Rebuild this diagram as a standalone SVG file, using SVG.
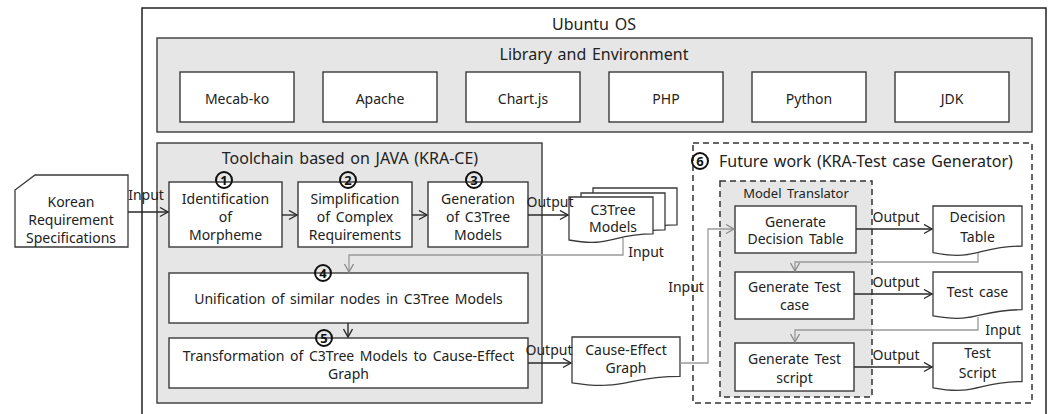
<svg xmlns="http://www.w3.org/2000/svg" width="1051" height="414" viewBox="0 0 1051 414">
  <style>
    text { font-family: "Noto Sans", "Open Sans", sans-serif; fill: #222; }
    .t14 { font-size: 14px; text-anchor: middle; word-spacing: 2px; }
    .ttl { font-size: 16px; text-anchor: middle; word-spacing: 1.5px; }
    .lbl { font-size: 14px; text-anchor: middle; }
    .box { fill: #fff; stroke: #3a3a3a; stroke-width: 1.4; }
    .grp { fill: #e6e6e6; stroke: #3a3a3a; stroke-width: 1.4; }
    .dash { stroke: #333; stroke-width: 1.5; stroke-dasharray: 6 4; }
    .doc { fill: #fff; stroke: #3a3a3a; stroke-width: 1.3; }
    .out { fill: none; stroke: #2a2a2a; stroke-width: 1.4; marker-end: url(#arrDark); }
    .in { fill: none; stroke: #9a9a9a; stroke-width: 1.3; marker-end: url(#arrGray); }
    .ring { fill: none; stroke: #111; stroke-width: 2; }
    .num { font-size: 13px; font-weight: bold; text-anchor: middle; fill: #111; }
  </style>
  <defs>
    <marker id="arrDark" markerUnits="userSpaceOnUse" markerWidth="12" markerHeight="12" refX="9" refY="5" orient="auto">
      <path d="M1,0.5 L9,5 L1,9.5" fill="none" stroke="#2a2a2a" stroke-width="1.4"/>
    </marker>
    <marker id="arrGray" markerUnits="userSpaceOnUse" markerWidth="12" markerHeight="12" refX="9" refY="5" orient="auto">
      <path d="M1,0.5 L9,5 L1,9.5" fill="none" stroke="#8a8a8a" stroke-width="1.3"/>
    </marker>
  </defs>

  <rect width="1051" height="414" fill="#fff"/>

  <!-- Ubuntu OS container -->
  <g id="ubuntu-os">
    <rect x="142" y="8" width="904" height="430" fill="#fff" stroke="#222" stroke-width="1.5"/>
    <text class="ttl" x="594" y="30">Ubuntu OS</text>
  </g>

  <!-- Library and Environment -->
  <g id="library-env">
    <rect class="grp" x="157" y="38" width="875" height="94"/>
    <text class="ttl" x="594" y="60">Library and Environment</text>
  </g>
  <g id="lib-mecab"><rect class="box" x="180" y="72" width="114" height="50"/><text class="t14" x="237" y="104">Mecab-ko</text></g>
  <g id="lib-apache"><rect class="box" x="323" y="72" width="114" height="50"/><text class="t14" x="380" y="104">Apache</text></g>
  <g id="lib-chartjs"><rect class="box" x="466" y="72" width="114" height="50"/><text class="t14" x="523" y="104">Chart.js</text></g>
  <g id="lib-php"><rect class="box" x="609" y="72" width="114" height="50"/><text class="t14" x="666" y="104">PHP</text></g>
  <g id="lib-python"><rect class="box" x="752" y="72" width="114" height="50"/><text class="t14" x="809" y="104">Python</text></g>
  <g id="lib-jdk"><rect class="box" x="895" y="72" width="114" height="50"/><text class="t14" x="952" y="104">JDK</text></g>

  <!-- Input document -->
  <g id="korean-req">
    <path class="doc" d="M35,175 H128 V247 H15 V190 Z"/>
    <text class="t14" x="71" y="207">Korean</text>
    <text class="t14" x="71" y="225">Requirement</text>
    <text class="t14" x="71" y="243">Specifications</text>
  </g>

  <!-- Toolchain -->
  <g id="toolchain">
    <rect class="grp" x="157" y="143" width="385" height="260"/>
    <text class="ttl" x="350" y="164">Toolchain based on JAVA (KRA-CE)</text>
  </g>
  <g id="step1">
    <rect class="box" x="169" y="182" width="113" height="65"/>
    <text class="t14" x="225.5" y="204">Identification</text>
    <text class="t14" x="225.5" y="222">of</text>
    <text class="t14" x="225.5" y="240">Morpheme</text>
    <circle class="ring" cx="224" cy="180" r="8"/>
    <text class="num" x="224" y="184.5">1</text>
  </g>
  <g id="step2">
    <rect class="box" x="298" y="182" width="114" height="65"/>
    <text class="t14" x="355" y="204">Simplification</text>
    <text class="t14" x="355" y="222">of Complex</text>
    <text class="t14" x="355" y="240">Requirements</text>
    <circle class="ring" cx="348" cy="180" r="8"/>
    <text class="num" x="348" y="184.5">2</text>
  </g>
  <g id="step3">
    <rect class="box" x="428" y="182" width="100" height="65"/>
    <text class="t14" x="478" y="204">Generation</text>
    <text class="t14" x="478" y="222">of C3Tree</text>
    <text class="t14" x="478" y="240">Models</text>
    <circle class="ring" cx="474" cy="180" r="8"/>
    <text class="num" x="474" y="184.5">3</text>
  </g>
  <g id="step4">
    <rect class="box" x="169" y="273" width="359" height="50"/>
    <text class="t14" x="348.5" y="304">Unification of similar nodes in C3Tree Models</text>
    <circle class="ring" cx="323" cy="273" r="8"/>
    <text class="num" x="323" y="277.5">4</text>
  </g>
  <g id="step5">
    <rect class="box" x="169" y="338" width="359" height="50"/>
    <text class="t14" x="348.5" y="361">Transformation of C3Tree Models to Cause-Effect</text>
    <text class="t14" x="348.5" y="379">Graph</text>
    <circle class="ring" cx="324" cy="338" r="8"/>
    <text class="num" x="324" y="342.5">5</text>
  </g>

  <!-- C3Tree model stack -->
  <g id="c3tree-models">
    <path class="doc" d="M593,188 H677 V224.9 C635,224.9 635,238.9 593,231 Z"/>
    <path class="doc" d="M581,193 H665 V229.9 C623,229.9 623,243.9 581,236 Z"/>
    <path class="doc" d="M569,197 H653 V233.9 C611,233.9 611,247.9 569,240 Z"/>
    <text class="t14" x="613" y="215">C3Tree</text>
    <text class="t14" x="613" y="232">Models</text>
  </g>

  <g id="cause-effect-graph">
    <path class="doc" d="M572,337 H680 V376.3 C626,376.3 626,391.2 572,382.8 Z"/>
    <text class="t14" x="626" y="355">Cause-Effect</text>
    <text class="t14" x="626" y="373">Graph</text>
  </g>

  <!-- Future work -->
  <g id="future-work">
    <rect class="dash" x="693" y="143" width="339" height="260" fill="none"/>
    <circle class="ring" cx="700" cy="161" r="8"/>
    <text class="num" x="700" y="165.5">6</text>
    <text x="719" y="167" style="font-size:16px; word-spacing:1.5px">Future work (KRA-Test case Generator)</text>
  </g>
  <g id="model-translator">
    <rect class="dash" x="720" y="181" width="152" height="216" fill="#e6e6e6"/>
    <text class="t14" x="796" y="198" style="font-size:13px">Model Translator</text>
  </g>
  <g id="gen-decision-table">
    <rect class="box" x="735" y="206" width="121" height="47"/>
    <text class="t14" x="795.5" y="227">Generate</text>
    <text class="t14" x="795.5" y="244">Decision Table</text>
  </g>
  <g id="gen-test-case">
    <rect class="box" x="735" y="272" width="119" height="47"/>
    <text class="t14" x="794.5" y="292">Generate Test</text>
    <text class="t14" x="794.5" y="310">case</text>
  </g>
  <g id="gen-test-script">
    <rect class="box" x="735" y="343" width="119" height="48"/>
    <text class="t14" x="794.5" y="364">Generate Test</text>
    <text class="t14" x="794.5" y="383">script</text>
  </g>
  <g id="decision-table">
    <path class="doc" d="M933,206 H1022 V246.1 C977.5,246.1 977.5,261.4 933,252.7 Z"/>
    <text class="t14" x="977.5" y="222">Decision</text>
    <text class="t14" x="977.5" y="242">Table</text>
  </g>
  <g id="test-case">
    <path class="doc" d="M933,272 H1022 V309.7 C977.5,309.7 977.5,324 933,315.9 Z"/>
    <text class="t14" x="977.5" y="297">Test case</text>
  </g>
  <g id="test-script">
    <path class="doc" d="M933,343 H1022 V381.5 C977.5,381.5 977.5,396.1 933,387.8 Z"/>
    <text class="t14" x="977.5" y="358">Test</text>
    <text class="t14" x="977.5" y="378">Script</text>
  </g>

  <!-- Connectors -->
  <g id="connectors">
    <line class="out" x1="128" y1="212" x2="168" y2="212"/>
    <line class="out" x1="282" y1="215" x2="297" y2="215"/>
    <line class="out" x1="412" y1="215" x2="427" y2="215"/>
    <line class="out" x1="528" y1="215" x2="568" y2="215"/>
    <polyline class="in" points="623,238 623,255 349,255 349,272"/>
    <line class="out" x1="348" y1="323" x2="348" y2="337"/>
    <line class="out" x1="528" y1="363" x2="571" y2="363"/>
    <polyline class="in" points="680,363 708,363 708,229 734,229"/>
    <line class="out" x1="856" y1="229" x2="932" y2="229"/>
    <polyline class="in" points="978,253 978,262 795,262 795,271"/>
    <line class="out" x1="854" y1="294" x2="932" y2="294"/>
    <polyline class="in" points="978,317 978,330 795,330 795,342"/>
    <line class="out" x1="854" y1="367" x2="932" y2="367"/>

    <text class="lbl" x="146" y="200">Input</text>
    <text class="lbl" x="550" y="207">Output</text>
    <text class="lbl" x="646" y="257">Input</text>
    <text class="lbl" x="549" y="355">Output</text>
    <text class="lbl" x="686" y="292">Input</text>
    <text class="lbl" x="896" y="222">Output</text>
    <text class="lbl" x="896" y="287">Output</text>
    <text class="lbl" x="1003" y="335">Input</text>
    <text class="lbl" x="896" y="360">Output</text>
  </g>
</svg>
